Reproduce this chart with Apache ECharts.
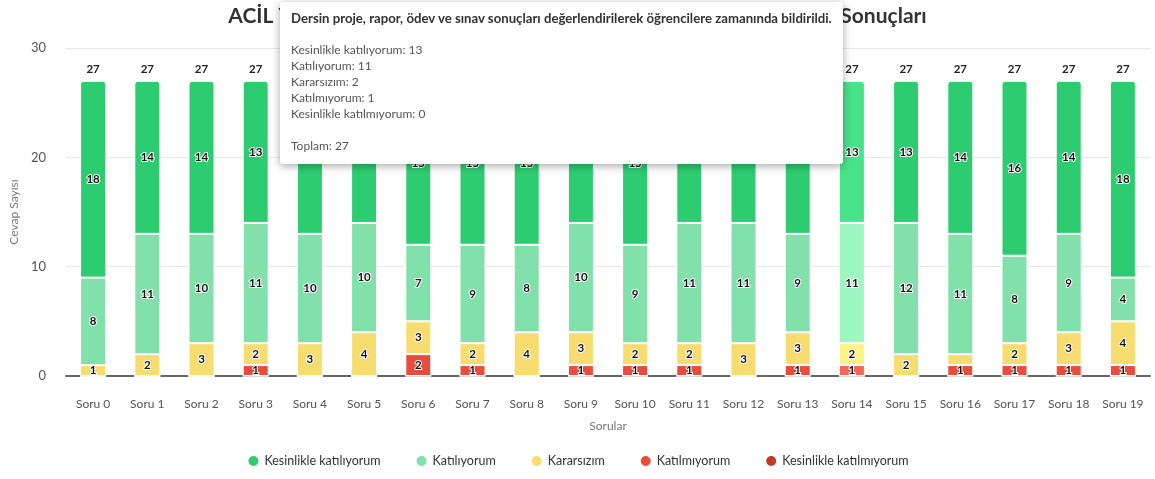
<!DOCTYPE html>
<html>
<head>
<meta charset="utf-8">
<script src="https://cdn.jsdelivr.net/npm/echarts@6/dist/echarts.min.js"></script>
<style>
html,body{margin:0;padding:0;background:#fff;}
#chart{width:1155px;height:479px;}
</style>
</head>
<body>
<div id="chart"></div>
<script>
const categories = ['Soru 0','Soru 1','Soru 2','Soru 3','Soru 4','Soru 5','Soru 6','Soru 7','Soru 8','Soru 9','Soru 10','Soru 11','Soru 12','Soru 13','Soru 14','Soru 15','Soru 16','Soru 17','Soru 18','Soru 19'];
const kesinlikleKatilmiyorum = [0,0,0,0,0,0,0,0,0,0,0,0,0,0,0,0,0,0,0,0];
const katilmiyorum           = [0,0,0,1,0,0,2,1,0,1,1,1,0,1,1,0,1,1,1,1];
const kararsizim             = [1,2,3,2,3,4,3,2,4,3,2,2,3,3,2,2,1,2,3,4];
const katiliyorum            = [8,11,10,11,10,10,7,9,8,10,9,11,11,9,11,12,11,8,9,4];
const kesinlikleKatiliyorum  = [18,14,14,13,14,13,15,15,15,13,15,13,13,14,13,13,14,16,14,18];
const yTicks = [0,10,20,30];
const questionTexts = {14: 'Dersin proje, rapor, ödev ve sınav sonuçları değerlendirilerek öğrencilere zamanında bildirildi.'};
const chartTitle = 'ACİL YARDIM VE AFET YÖNETİMİ Dersi Değerlendirme Anketi - Sonuçları';
const activeIndex = 14;

const totals = categories.map((c, i) => kesinlikleKatilmiyorum[i] + katilmiyorum[i] + kararsizim[i] + katiliyorum[i] + kesinlikleKatiliyorum[i]);

const FONT = 'Lato, "Noto Sans", sans-serif';
const seriesDefs = [
  {name: 'Kesinlikle katılmıyorum', data: kesinlikleKatilmiyorum, color: '#c0392b', emph: '#e0503f'},
  {name: 'Katılmıyorum', data: katilmiyorum, color: '#e74c3c', emph: '#f8665a'},
  {name: 'Kararsızım', data: kararsizim, color: '#f7dc6f', emph: '#fdf283'},
  {name: 'Katılıyorum', data: katiliyorum, color: '#82e0aa', emph: '#9ef7c0'},
  {name: 'Kesinlikle katılıyorum', data: kesinlikleKatiliyorum, color: '#2ecc71', emph: '#48e389'}
];

const labelStyle = {
  show: true, position: 'inside', fontFamily: FONT, fontSize: 11.5, fontWeight: 'bold',
  color: '#111', textBorderColor: '#fff', textBorderWidth: 2,
  formatter: p => p.value > 0 ? String(p.value) : ''
};

const series = seriesDefs.map((s, k) => ({
  name: s.name, type: 'bar', stack: 'total', barWidth: 26,
  data: s.data,
  itemStyle: {color: s.color, borderColor: '#fff', borderWidth: 1, borderRadius: k === 4 ? [3,3,0,0] : 0},
  emphasis: {focus: 'none', itemStyle: {color: s.emph, borderColor: '#fff', borderWidth: 1}, label: {show: true}},
  label: labelStyle,
  labelLayout: {hideOverlap: true}
}));
series.push({
  name: 'Toplam', type: 'bar', stack: 'total', barWidth: 26,
  data: categories.map(() => 0), silent: true,
  itemStyle: {color: 'transparent'},
  label: {show: true, position: 'top', distance: 6, fontFamily: FONT, fontSize: 11.5, fontWeight: 'bold', color: '#222',
    formatter: p => String(totals[p.dataIndex])},
  tooltip: {show: false}
});

const chart = echarts.init(document.getElementById('chart'), null, {renderer: 'canvas'});
chart.setOption({
  animation: false,
  textStyle: {fontFamily: FONT},
  title: {text: chartTitle, left: 'center', top: 1, textStyle: {fontFamily: FONT, fontSize: 21, fontWeight: 'bold', color: '#333'}},
  grid: {left: 65, right: 5, top: 48, bottom: 103, containLabel: false},
  legend: {
    bottom: 6, left: 'center', icon: 'circle', itemWidth: 12, itemHeight: 12, itemGap: 34,
    data: ['Kesinlikle katılıyorum','Katılıyorum','Kararsızım','Katılmıyorum','Kesinlikle katılmıyorum'],
    textStyle: {fontFamily: FONT, fontSize: 12.5, color: '#333'}
  },
  tooltip: {
    trigger: 'item', alwaysShowContent: true,
    position: [280, 2],
    backgroundColor: '#fff', borderWidth: 0, padding: [8, 11, 10, 11],
    extraCssText: 'box-shadow: 0 2px 8px rgba(0,0,0,0.35); border-radius: 3px;',
    textStyle: {fontFamily: FONT, fontSize: 12, color: '#555'},
    formatter: function (p) {
      const i = p.dataIndex;
      const q = questionTexts[i] || categories[i];
      let h = '<div style="line-height:16px;font-family:' + FONT.replace(/"/g, "'") + '">';
      h += '<div style="font-weight:bold;color:#333;font-size:13.2px;">' + q + '</div><br/>';
      for (let k = seriesDefs.length - 1; k >= 0; k--) {
        h += seriesDefs[k].name + ': ' + seriesDefs[k].data[i] + '<br/>';
      }
      h += '<br/>Toplam: ' + totals[i] + '</div>';
      return h;
    }
  },
  xAxis: {
    type: 'category', data: categories,
    name: 'Sorular', nameLocation: 'middle', nameGap: 44,
    nameTextStyle: {fontFamily: FONT, fontSize: 12, color: '#777'},
    axisLine: {lineStyle: {color: '#666', width: 2}},
    axisTick: {show: false},
    axisLabel: {margin: 22, fontFamily: FONT, fontSize: 12, color: '#555'}
  },
  yAxis: {
    type: 'value', min: 0, max: 30, interval: 10,
    name: 'Cevap Sayısı', nameLocation: 'middle', nameGap: 46,
    nameTextStyle: {fontFamily: FONT, fontSize: 12, color: '#777'},
    axisLine: {show: false}, axisTick: {show: false},
    axisLabel: {margin: 20, fontFamily: FONT, fontSize: 13, color: '#555',
      formatter: v => yTicks.indexOf(v) >= 0 ? String(v) : ''},
    splitLine: {lineStyle: {color: '#e8e8e8'}}
  },
  series: series
});

for (let k = 0; k < seriesDefs.length; k++) {
  chart.dispatchAction({type: 'highlight', seriesIndex: k, dataIndex: activeIndex});
}
chart.dispatchAction({type: 'showTip', seriesIndex: 4, dataIndex: activeIndex});
</script>
</body>
</html>
